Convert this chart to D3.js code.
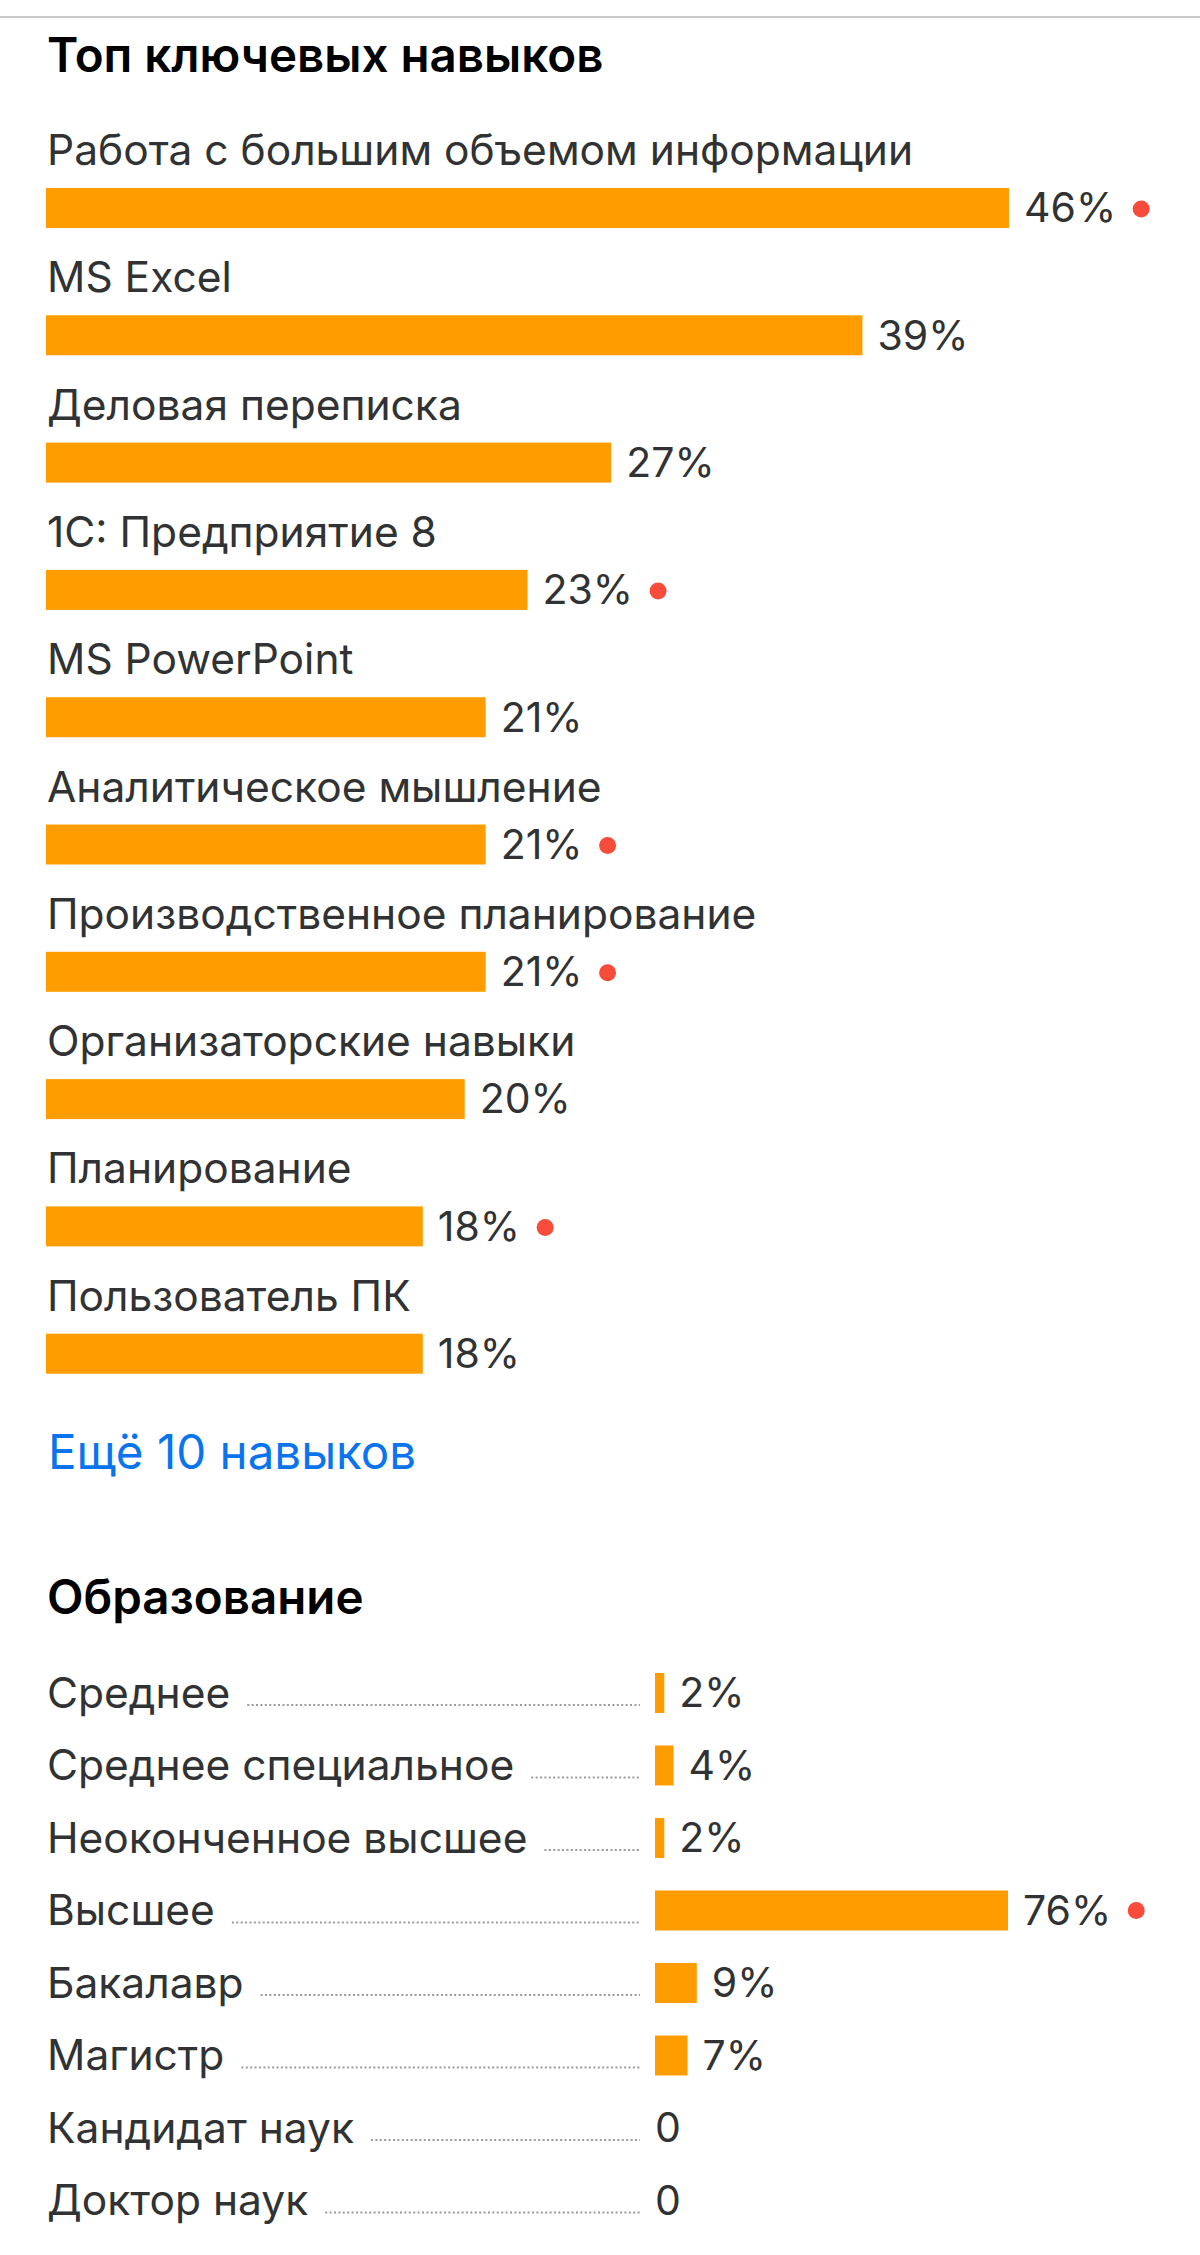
<!DOCTYPE html>
<html>
<head>
<meta charset="utf-8">
<script src="https://cdn.jsdelivr.net/npm/d3@7"></script>
<style>
  body { margin: 0; background: #fff; }
  text { font-family: Inter, "Noto Sans", sans-serif; }
</style>
</head>
<body>
<script>
var width = 1200,
    height = 2255;

// ключевые навыки
var skills = [
  'Работа с большим объемом информации',
  'MS Excel',
  'Деловая переписка',
  '1С: Предприятие 8',
  'MS PowerPoint',
  'Аналитическое мышление',
  'Производственное планирование',
  'Организаторские навыки',
  'Планирование',
  'Пользователь ПК'
];
var skillValues = [46, 39, 27, 23, 21, 21, 21, 20, 18, 18];
var skillMarked = [true, false, false, true, false, true, true, false, true, false];

// образование
var education = [
  'Среднее',
  'Среднее специальное',
  'Неоконченное высшее',
  'Высшее',
  'Бакалавр',
  'Магистр',
  'Кандидат наук',
  'Доктор наук'
];
var eduValues = [2, 4, 2, 76, 9, 7, 0, 0];
var eduMarked = [false, false, false, true, false, false, false, false];

var orange = '#ff9d00',
    red = '#f74b3c',
    textColor = '#303233',
    labelSize = 42.5,
    valueSize = 41;

var svg = d3.select('body')
    .append('svg')
    .attr('width', width)
    .attr('height', height);

svg.append('line')
    .attr('x1', 0).attr('x2', width)
    .attr('y1', 17).attr('y2', 17)
    .attr('stroke', '#c9c9c9')
    .attr('stroke-width', 2);

svg.append('text')
    .attr('x', 47).attr('y', 72)
    .attr('font-size', 47.5)
    .attr('font-weight', 600)
    .attr('fill', '#000')
    .text('Топ ключевых навыков');

// --- skills ---
var skillData = skills.map(function (s, i) {
    return { name: s, value: skillValues[i], marked: skillMarked[i] };
});

var x1 = d3.scaleLinear()
    .domain([0, d3.max(skillValues)])
    .range([46, 1009]);

var y1 = d3.scaleBand()
    .domain(skills)
    .range([132, 132 + skills.length * 127.3]);

function pct(v) { return v === 0 ? '0' : v + '%'; }

var rows = svg.selectAll('g.skill')
    .data(skillData)
    .enter()
    .append('g')
    .attr('class', 'skill')
    .attr('transform', function (d) { return 'translate(0,' + y1(d.name) + ')'; });

rows.append('text')
    .attr('x', 47)
    .attr('y', 33)
    .attr('font-size', labelSize)
    .attr('fill', textColor)
    .text(function (d) { return d.name; });

rows.append('rect')
    .attr('x', x1(0))
    .attr('y', 56)
    .attr('height', 40)
    .attr('width', function (d) { return x1(d.value) - x1(0); })
    .attr('fill', orange);

rows.append('text')
    .attr('class', 'val')
    .attr('x', function (d) { return x1(d.value) + 15; })
    .attr('y', 76)
    .attr('dy', '0.35em')
    .attr('font-size', valueSize)
    .attr('fill', textColor)
    .text(function (d) { return pct(d.value); });

rows.each(function (d) {
    if (!d.marked) return;
    var g = d3.select(this);
    var t = g.select('text.val').node();
    var end = x1(d.value) + 15 + t.getComputedTextLength();
    g.append('circle')
        .attr('cx', end + 25)
        .attr('cy', 77)
        .attr('r', 8.5)
        .attr('fill', red);
});

svg.append('text')
    .attr('x', 48).attr('y', 1469)
    .attr('font-size', 47.5)
    .attr('fill', '#0a74f0')
    .text('Ещё 10 навыков');

// --- education ---
svg.append('text')
    .attr('x', 47).attr('y', 1614)
    .attr('font-size', 47.5)
    .attr('font-weight', 600)
    .attr('fill', '#000')
    .text('Образование');

var eduData = education.map(function (s, i) {
    return { name: s, value: eduValues[i], marked: eduMarked[i] };
});

var x2 = d3.scaleLinear()
    .domain([0, d3.max(eduValues)])
    .range([655, 1008]);

var y2 = d3.scaleBand()
    .domain(education)
    .range([1673, 1673 + education.length * 72.5]);

var erows = svg.selectAll('g.edu')
    .data(eduData)
    .enter()
    .append('g')
    .attr('class', 'edu')
    .attr('transform', function (d) { return 'translate(0,' + y2(d.name) + ')'; });

erows.append('text')
    .attr('class', 'lab')
    .attr('x', 47)
    .attr('y', 20)
    .attr('dy', '0.35em')
    .attr('font-size', labelSize)
    .attr('fill', textColor)
    .text(function (d) { return d.name; });

erows.each(function (d) {
    var g = d3.select(this);
    var w = g.select('text.lab').node().getComputedTextLength();
    g.append('line')
        .attr('x1', 47 + w + 17)
        .attr('x2', 640)
        .attr('y1', 32).attr('y2', 32)
        .attr('stroke', '#9a9a9a')
        .attr('stroke-width', 2)
        .attr('stroke-dasharray', '2,2.4');
});

erows.filter(function (d) { return d.value > 0; })
    .append('rect')
    .attr('x', x2(0))
    .attr('y', 0)
    .attr('height', 40)
    .attr('width', function (d) { return x2(d.value) - x2(0); })
    .attr('fill', orange);

erows.append('text')
    .attr('class', 'val')
    .attr('x', function (d) { return d.value > 0 ? x2(d.value) + 15 : x2(0); })
    .attr('y', 20)
    .attr('dy', '0.35em')
    .attr('font-size', valueSize)
    .attr('fill', textColor)
    .text(function (d) { return pct(d.value); });

erows.each(function (d) {
    if (!d.marked) return;
    var g = d3.select(this);
    var t = g.select('text.val').node();
    var end = x2(d.value) + 15 + t.getComputedTextLength();
    g.append('circle')
        .attr('cx', end + 25)
        .attr('cy', 20)
        .attr('r', 8.5)
        .attr('fill', red);
});
</script>
</body>
</html>
